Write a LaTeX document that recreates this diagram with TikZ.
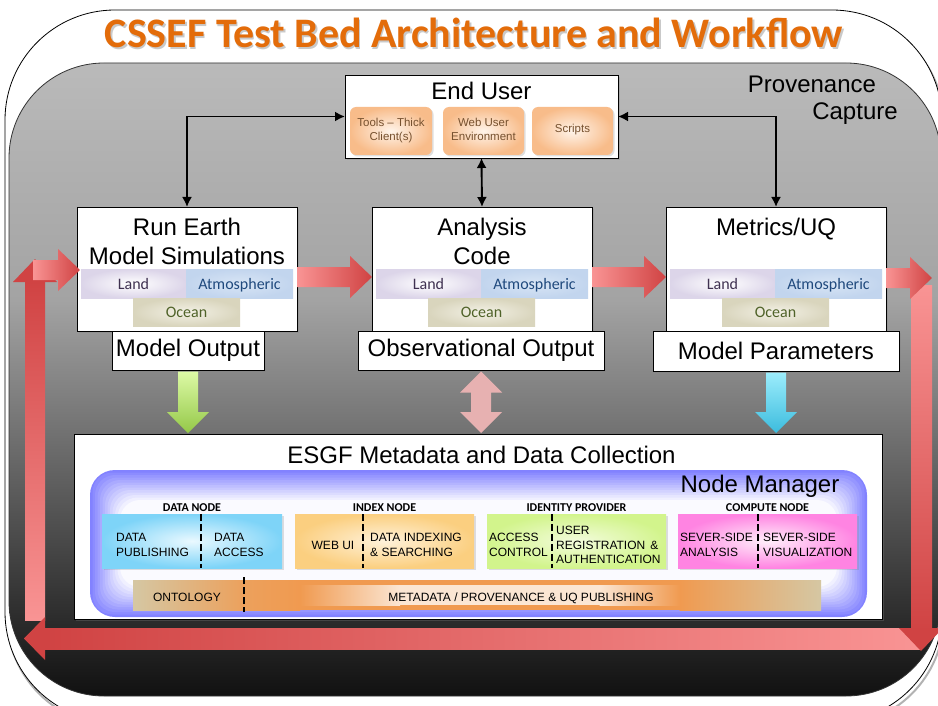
\documentclass[tikz,border=0pt]{standalone}
\usepackage{fontspec}
\setmainfont{Liberation Sans}
\newfontfamily\carlito{Carlito}
\usetikzlibrary{calc,shadows,arrows.meta}

\definecolor{titleor}{HTML}{E36C0A}
\definecolor{loopRed}{HTML}{D04343}
\definecolor{loopPink}{HTML}{F99494}
\definecolor{nmblue}{HTML}{8282FF}
\definecolor{subtxt}{HTML}{76512F}
\definecolor{landtxt}{HTML}{3F3151}
\definecolor{atmtxt}{HTML}{1F497D}
\definecolor{octxt}{HTML}{4F6228}
\definecolor{landc}{HTML}{DCD5E9}
\definecolor{atmin}{HTML}{D8E5F5}
\definecolor{atmout}{HTML}{C2D5EE}
\definecolor{ocin}{HTML}{F3F1E6}
\definecolor{ocout}{HTML}{D9D5BD}
\definecolor{orin}{HTML}{FFF4EA}
\definecolor{orout}{HTML}{F8BC8A}
\definecolor{dnin}{HTML}{EAF9FF}
\definecolor{dnout}{HTML}{7ED4F8}
\definecolor{inin}{HTML}{FFF2DA}
\definecolor{inout}{HTML}{FBCF80}
\definecolor{ipin}{HTML}{F3FCDC}
\definecolor{ipout}{HTML}{D2F48C}
\definecolor{cnin}{HTML}{FFEFFA}
\definecolor{cnout}{HTML}{FF84E2}
\definecolor{grtop}{HTML}{DDFAA6}
\definecolor{grbot}{HTML}{94C848}
\definecolor{bltop}{HTML}{9CEDFC}
\definecolor{blbot}{HTML}{3CBCDE}
\definecolor{pkarrow}{HTML}{E7B1B1}
\definecolor{tan}{HTML}{D5C7A3}
\definecolor{ontor}{HTML}{F09A50}
\definecolor{ontlt}{HTML}{FBE6D3}

\newcommand\fatR[3]{\path[#3] ($(#1)+(0,-10)$) -- ($(#2)+(-22,-10)$) -- ($(#2)+(-22,-21)$) -- (#2) -- ($(#2)+(-22,21)$) -- ($(#2)+(-22,10)$) -- ($(#1)+(0,10)$) -- cycle;}
\newcommand\fatD[3]{\path[#3] ($(#1)+(-10,0)$) -- ($(#2)+(-10,-21)$) -- ($(#2)+(-21,-21)$) -- (#2) -- ($(#2)+(21,-21)$) -- ($(#2)+(10,-21)$) -- ($(#1)+(10,0)$) -- cycle;}
\newcommand\fatDD[3]{\path[#3] (#1) -- ($(#1)+(21,21)$) -- ($(#1)+(10,21)$) -- ($(#2)+(10,-21)$) -- ($(#2)+(21,-21)$) -- (#2) -- ($(#2)+(-21,-21)$) -- ($(#2)+(-10,-21)$) -- ($(#1)+(-10,21)$) -- ($(#1)+(-21,21)$) -- cycle;}

\tikzset{
 pxbox/.style={inner sep=0pt, outer sep=0pt, anchor=north west},
 wbox/.style={pxbox, draw=black, line width=0.9pt, fill=white, drop shadow={opacity=0.3, shadow xshift=2pt, shadow yshift=-2pt}},
 big/.style={inner sep=0pt, anchor=base, font=\fontsize{24}{28}\selectfont},
 orbox/.style={pxbox, rounded corners=6pt, inner color=orin, outer color=orout, minimum height=48, drop shadow={opacity=0.25, shadow xshift=1.5pt, shadow yshift=-1.5pt}},
 ortxt/.style={inner sep=0pt, anchor=base, text=subtxt, font=\fontsize{11.5}{13}\selectfont},
 landbox/.style={pxbox, minimum width=105, minimum height=29, inner color=white, outer color=landc},
 atmbox/.style={pxbox, minimum width=107, minimum height=29, inner color=atmin, outer color=atmout},
 ocbox/.style={pxbox, minimum width=107, minimum height=28, inner color=ocin, outer color=ocout},
 caltxt/.style={inner sep=0pt, anchor=base, font=\carlito\fontsize{16}{18}\selectfont},
 nodelbl/.style={inner sep=0pt, anchor=base, font=\carlito\bfseries\fontsize{12}{14}\selectfont},
 intxt/.style={inner sep=0pt, anchor=base west, font=\fontsize{12}{14}\selectfont},
 subbox/.style={pxbox, minimum width=180, minimum height=54, drop shadow={opacity=0.25, shadow xshift=1.5pt, shadow yshift=-1.5pt}},
 divider/.style={line width=2.4pt, dash pattern=on 7pt off 3pt},
 conn/.style={line width=1.9pt, {Latex[length=10pt,width=10pt]}-{Latex[length=10pt,width=10pt]}},
 redarrow/.style={left color=loopPink, right color=loopRed},
}

\begin{document}
\begin{tikzpicture}[x=1pt,y=-1pt]
\useasboundingbox (0,0) rectangle (938,706);
\clip (0,0) rectangle (938,706);
\fill[white] (0,0) rectangle (938,706);

% outer frame
\draw[black!30, line width=2pt, rounded corners=110pt] (7,14) rectangle (944,726);
\draw[fill=white, line width=0.8pt, rounded corners=110pt] (5,10) rectangle (942,722);

% gray panel
\begin{scope}
\clip[rounded corners=95pt] (9,63) rectangle (941,696);
\shade[top color=black!27, bottom color=black!36] (0,60) rectangle (945,300);
\shade[top color=black!36, bottom color=black!80] (0,299.5) rectangle (945,600);
\shade[top color=black!80, bottom color=black!94] (0,599.5) rectangle (945,700);
\end{scope}
\draw[black!80, line width=0.8pt, rounded corners=95pt] (9,63) rectangle (941,696);

% title
\node[inner sep=0pt, anchor=base, text=black!35, opacity=0.6, font=\carlito\bfseries\fontsize{42}{50}\selectfont] (titleshadow) at (475.5,49.5) {CSSEF Test Bed Architecture and Workflow};
\node[inner sep=0pt, anchor=base, text=titleor, font=\carlito\bfseries\fontsize{42}{50}\selectfont] (title) at (474,48) {CSSEF Test Bed Architecture and Workflow};

% provenance capture
\node[big] (prov1) at (812,93) {Provenance};
\node[big] (prov2) at (855,120) {Capture};

% feedback loop
\shade[top color=loopPink, bottom color=loopRed] (911,285) rectangle (932,630);
\shade[left color=loopRed, right color=loopPink] (44,628) rectangle (921,649);
\fill[loopRed] (899,628) -- (943,628) -- (921,651) -- cycle;
\shade[top color=loopRed, bottom color=loopPink] (25,281) rectangle (45,620);
\fill[loopRed] (45,617) -- (45,660) -- (24,638.5) -- cycle;
\fill[loopRed] (13,282) -- (57,282) -- (35,259) -- cycle;

% End user
\node[wbox, minimum width=273, minimum height=83] (eu) at (345,75) {};
\node[big] (eut) at (481.5,100) {End User};
\node[orbox, minimum width=82] (tools) at (350,107) {};
\node[orbox, minimum width=81] (web) at (443,107) {};
\node[orbox, minimum width=81] (scr) at (532,107) {};
\node[ortxt] (tools1) at (391,127) {Tools -- Thick};
\node[ortxt] (tools2) at (391,141) {Client(s)};
\node[ortxt] (web1) at (483.5,127) {Web User};
\node[ortxt] (web2) at (483.5,141) {Environment};
\node[ortxt] (scr1) at (572.5,133) {Scripts};

% three main boxes
\node[wbox, minimum width=220, minimum height=124] (run) at (77,207) {};
\node[wbox, minimum width=220, minimum height=124] (ana) at (372,207) {};
\node[wbox, minimum width=220, minimum height=124] (met) at (666,207) {};

\node[big] (run1) at (187,236) {Run Earth};
\node[big] (run2) at (187,265) {Model Simulations};
\node[big] (ana1) at (482,236) {Analysis};
\node[big] (ana2) at (482,265) {Code};
\node[big] (met1) at (776,236) {Metrics/UQ};

\foreach \n/\dx in {r/0, a/295, m/589}{
  \node[landbox] (\n land) at (81+\dx,269) {};
  \node[atmbox] (\n atm) at (186+\dx,269) {};
  \node[ocbox] (\n oc) at (133+\dx,298) {};
  \node[caltxt, text=landtxt] (\n landt) at (133.5+\dx,289) {Land};
  \node[caltxt, text=atmtxt] (\n atmt) at (239.5+\dx,289) {Atmospheric};
  \node[caltxt, text=octxt] (\n oct) at (186.5+\dx,317) {Ocean};
}

% output boxes
\node[wbox, minimum width=152, minimum height=39, font=\fontsize{24}{28}\selectfont, anchor=center] (mo) at (188,350.5) {Model Output};
\node[wbox, minimum width=246, minimum height=39, font=\fontsize{24}{28}\selectfont, anchor=center] (oo) at (481,350.5) {Observational Output};
\node[wbox, minimum width=246, minimum height=40, font=\fontsize{24}{28}\selectfont, anchor=center] (mp) at (776,351) {Model Parameters};

% thin connectors
\draw[conn] (eu.west) -| (run.north);
\draw[conn] (eu.east) -| (met.north);
\draw[conn] (eu.south) -- (ana.north);

% fat red arrows
\coordinate (ra) at ($(run.east)+(0,8)$);
\coordinate (rb) at (ana.west |- ra);
\fatR{ra}{rb}{redarrow}
\coordinate (ma) at ($(ana.east)+(0,8)$);
\coordinate (mb) at (met.west |- ma);
\fatR{ma}{mb}{redarrow}
\coordinate (qa) at ($(met.east)+(0,9)$);
\coordinate (qb) at ($(qa)+(46,0)$);
\fatR{qa}{qb}{redarrow}
\coordinate (lb) at ($(run.west)+(3,1)$);
\coordinate (la) at ($(lb)+(-47,0)$);
\fatR{la}{lb}{redarrow}

% ESGF
\node[wbox, minimum width=808, minimum height=185] (esgf) at (74,434) {};
\node[big] (esgft) at (481.5,463) {ESGF Metadata and Data Collection};

% vertical arrows
\coordinate (ga) at ($(mo.south)+(0,1.5)$);
\coordinate (gb) at ($(mo.south |- esgf.north)+(0,-1)$);
\fatD{ga}{gb}{top color=grtop, bottom color=grbot}
\coordinate (pa) at ($(oo.south)+(0,1.5)$);
\coordinate (pb) at ($(oo.south |- esgf.north)+(0,-1)$);
\fatDD{pa}{pb}{fill=pkarrow}
\coordinate (ba) at ($(mp.south)+(0,1.5)$);
\coordinate (bb) at ($(mp.south |- esgf.north)+(0,-1)$);
\fatD{ba}{bb}{top color=bltop, bottom color=blbot}

% node manager
\node[pxbox, minimum width=777, minimum height=147, rounded corners=25pt, fill=nmblue] (nm) at (90,470) {};
\foreach \i in {1,...,12}{
  \pgfmathtruncatemacro\p{100-\i*8}
  \fill[nmblue!\p!white, rounded corners=20pt] ($(nm.north west)+(\i*2.5,\i*2.5)$) rectangle ($(nm.south east)+(-\i*2.5,-\i*2.5)$);
}
\node[big] (nmt) at (760,492) {Node Manager};

% sub-node labels
\node[nodelbl] (dnl) at (192,511) {DATA NODE};
\node[nodelbl] (inl) at (384.5,511) {INDEX NODE};
\node[nodelbl] (ipl) at (576.5,511) {IDENTITY PROVIDER};
\node[nodelbl] (cnl) at (767.5,511) {COMPUTE NODE};

% sub-node boxes
\node[subbox, inner color=dnin, outer color=dnout] (dn) at (102,514) {};
\node[subbox, minimum width=179, inner color=inin, outer color=inout] (in) at (295,514) {};
\node[subbox, minimum width=179, inner color=ipin, outer color=ipout] (ip) at (487,514) {};
\node[subbox, minimum width=179, inner color=cnin, outer color=cnout] (cn) at (678,514) {};

\draw[divider] (201,514) -- (201,568);
\draw[divider] (363,514) -- (363,568);
\draw[divider] (552,514) -- (552,568);
\draw[divider] (758,514) -- (758,568);

\node[intxt] (dp1) at (116,541) {DATA};
\node[intxt] (dp2) at (116,556) {PUBLISHING};
\node[intxt] (da1) at (214,541) {DATA};
\node[intxt] (da2) at (214,556) {ACCESS};
\node[intxt, anchor=base] (wu) at (333,549) {WEB UI};
\node[intxt] (di1) at (370,541) {DATA INDEXING};
\node[intxt] (di2) at (370,556) {\& SEARCHING};
\node[intxt] (ac1) at (489,541) {ACCESS};
\node[intxt] (ac2) at (489,556) {CONTROL};
\node[intxt] (ur1) at (556,534.5) {USER};
\node[intxt] (ur2) at (556,549) {REGISTRATION\hspace{5pt}\&};
\node[intxt] (ur3) at (556,563.5) {AUTHENTICATION};
\node[intxt] (sa1) at (680,541) {SEVER-SIDE};
\node[intxt] (sa2) at (680,556) {ANALYSIS};
\node[intxt] (sv1) at (763,541) {SEVER-SIDE};
\node[intxt] (sv2) at (763,556) {VISUALIZATION};

% ontology bar
\node[pxbox, minimum width=688, minimum height=30] (ontbar) at (133,580) {};
\shade[left color=tan, right color=ontor!85!tan] (133,580) rectangle (244,610);
\shade[left color=ontor!85!tan, right color=ontor] (243.5,580) rectangle (300,610);
\fill[ontor] (299.5,580) rectangle (680,610);
\shade[left color=ontor, right color=tan] (679.5,580) rectangle (821,610);
\shade[left color=ontor, right color=ontlt] (300,585) rectangle (400,605);
\fill[ontlt] (399.5,585) rectangle (600,605);
\shade[left color=ontlt, right color=ontor] (599.5,585) rectangle (680,605);
\draw[divider] (244,577) -- (244,612);
\node[intxt, anchor=base] (ont) at (187,601) {ONTOLOGY};
\node[intxt, anchor=base] (meta) at (521,601) {METADATA / PROVENANCE \& UQ PUBLISHING};
\end{tikzpicture}
\end{document}
